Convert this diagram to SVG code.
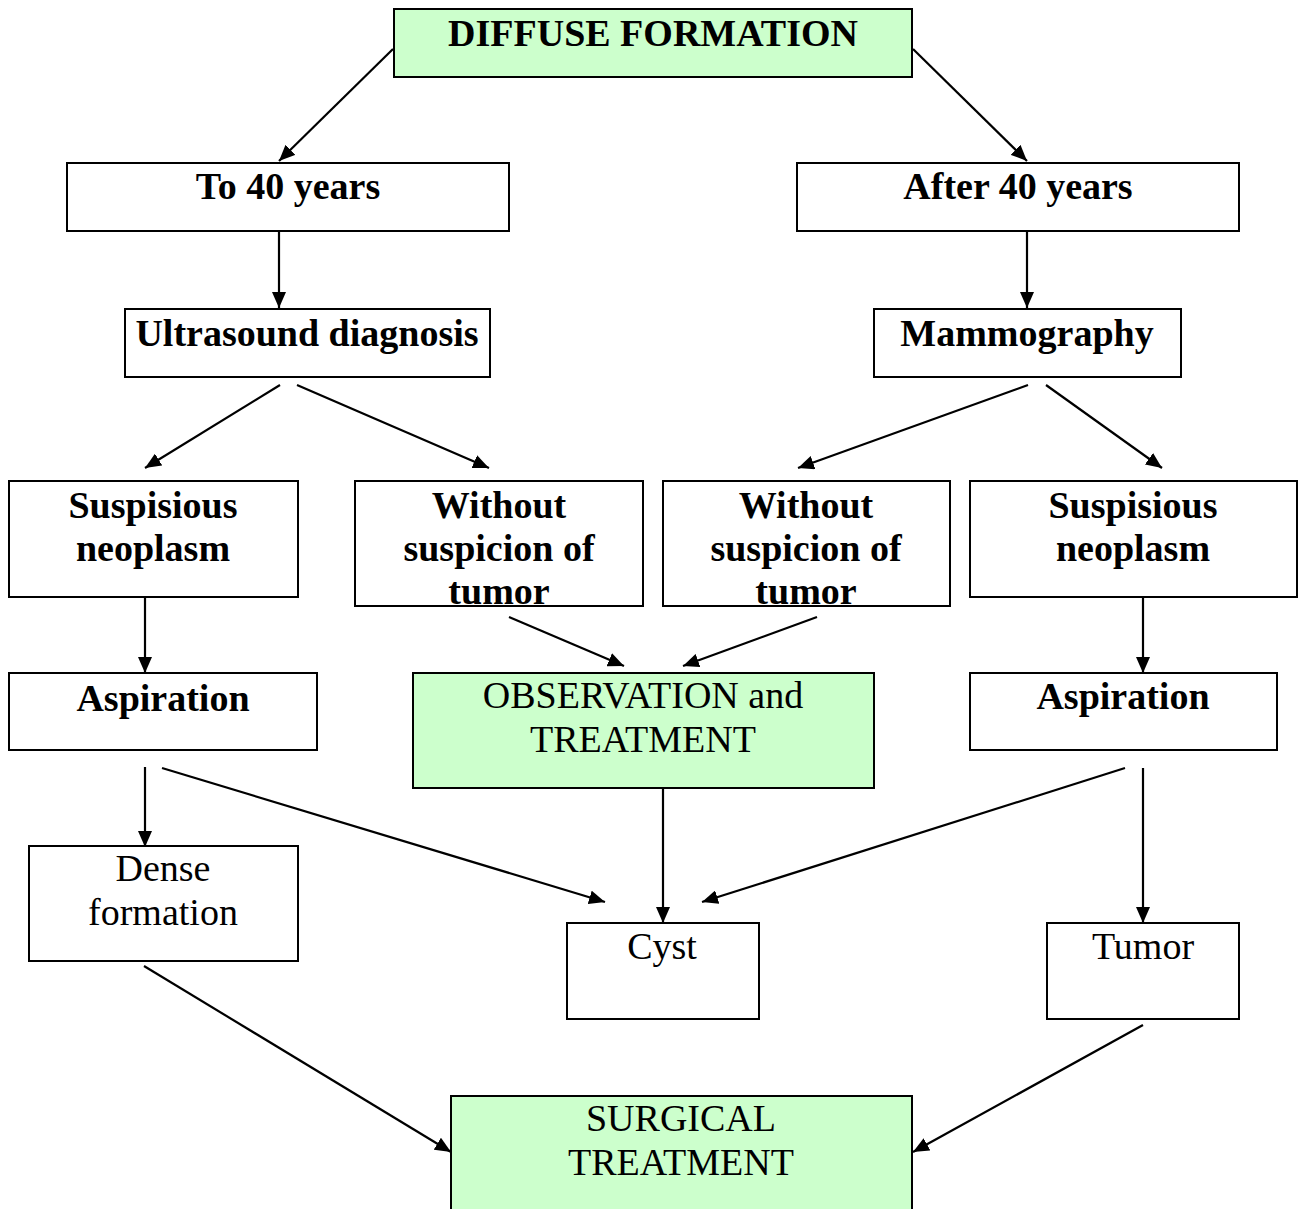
<svg xmlns="http://www.w3.org/2000/svg" width="1299" height="1209" viewBox="0 0 1299 1209">
<style>
.box{fill:#fff;stroke:#000;stroke-width:2}
.g{fill:#ccffcc;stroke:#000;stroke-width:2}
.b{font-family:"Liberation Serif","Times New Roman",serif;font-weight:bold;font-size:38px;text-anchor:middle;fill:#000}
.r{font-family:"Liberation Serif","Times New Roman",serif;font-size:38px;text-anchor:middle;fill:#000}
#connectors line{stroke:#000;stroke-width:2.2;marker-end:url(#ah)}
</style>
<defs>
<marker id="ah" viewBox="0 0 16 14" refX="16" refY="7" markerWidth="16" markerHeight="14" markerUnits="userSpaceOnUse" orient="auto">
<path d="M0,0 L16,7 L0,14 Z" fill="#000"/>
</marker>
</defs>
<g id="connectors">
<line x1="393" y1="49" x2="279" y2="161"/>
<line x1="913" y1="49" x2="1027" y2="161"/>
<line x1="279" y1="231" x2="279" y2="308"/>
<line x1="1027" y1="231" x2="1027" y2="308"/>
<line x1="280" y1="385" x2="145" y2="468"/>
<line x1="297" y1="385" x2="489" y2="468"/>
<line x1="1028" y1="385" x2="798" y2="468"/>
<line x1="1046" y1="385" x2="1162" y2="468"/>
<line x1="145" y1="597" x2="145" y2="673"/>
<line x1="1143" y1="597" x2="1143" y2="673"/>
<line x1="509" y1="617" x2="624" y2="666"/>
<line x1="817" y1="617" x2="683" y2="666"/>
<line x1="145" y1="767" x2="145" y2="847"/>
<line x1="162" y1="768" x2="605" y2="902"/>
<line x1="663" y1="788" x2="663" y2="923"/>
<line x1="1125" y1="768" x2="702" y2="902"/>
<line x1="1143" y1="768" x2="1143" y2="923"/>
<line x1="144" y1="966" x2="451" y2="1152"/>
<line x1="1143" y1="1025" x2="913" y2="1152"/>
</g>
<g id="diffuse"><rect class="g" x="394" y="9" width="518" height="68"/><text class="b" x="653" y="46">DIFFUSE FORMATION</text></g>
<g id="to40"><rect class="box" x="67" y="163" width="442" height="68"/><text class="b" x="288" y="199">To 40 years</text></g>
<g id="after40"><rect class="box" x="797" y="163" width="442" height="68"/><text class="b" x="1018" y="199">After 40 years</text></g>
<g id="ultrasound"><rect class="box" x="125" y="309" width="365" height="68"/><text class="b" x="307" y="346">Ultrasound diagnosis</text></g>
<g id="mammography"><rect class="box" x="874" y="309" width="307" height="68"/><text class="b" x="1027" y="346">Mammography</text></g>
<g id="susp-left"><rect class="box" x="9" y="481" width="289" height="116"/><text class="b" x="153" y="518">Suspisious</text><text class="b" x="153" y="561">neoplasm</text></g>
<g id="without-left"><rect class="box" x="355" y="481" width="288" height="125"/><text class="b" x="499" y="518">Without</text><text class="b" x="499" y="561">suspicion of</text><text class="b" x="499" y="604">tumor</text></g>
<g id="without-right"><rect class="box" x="663" y="481" width="287" height="125"/><text class="b" x="806" y="518">Without</text><text class="b" x="806" y="561">suspicion of</text><text class="b" x="806" y="604">tumor</text></g>
<g id="susp-right"><rect class="box" x="970" y="481" width="327" height="116"/><text class="b" x="1133" y="518">Suspisious</text><text class="b" x="1133" y="561">neoplasm</text></g>
<g id="asp-left"><rect class="box" x="9" y="673" width="308" height="77"/><text class="b" x="163" y="711">Aspiration</text></g>
<g id="observation"><rect class="g" x="413" y="673" width="461" height="115"/><text class="r" x="643" y="708">OBSERVATION and</text><text class="r" x="643" y="752">TREATMENT</text></g>
<g id="asp-right"><rect class="box" x="970" y="673" width="307" height="77"/><text class="b" x="1123" y="709">Aspiration</text></g>
<g id="dense"><rect class="box" x="29" y="846" width="269" height="115"/><text class="r" x="163" y="881">Dense</text><text class="r" x="163" y="925">formation</text></g>
<g id="cyst"><rect class="box" x="567" y="923" width="192" height="96"/><text class="r" x="662" y="959">Cyst</text></g>
<g id="tumor"><rect class="box" x="1047" y="923" width="192" height="96"/><text class="r" x="1143" y="959">Tumor</text></g>
<g id="surgical"><rect class="g" x="451" y="1096" width="461" height="125"/><text class="r" x="681" y="1131">SURGICAL</text><text class="r" x="681" y="1175">TREATMENT</text></g>
</svg>
